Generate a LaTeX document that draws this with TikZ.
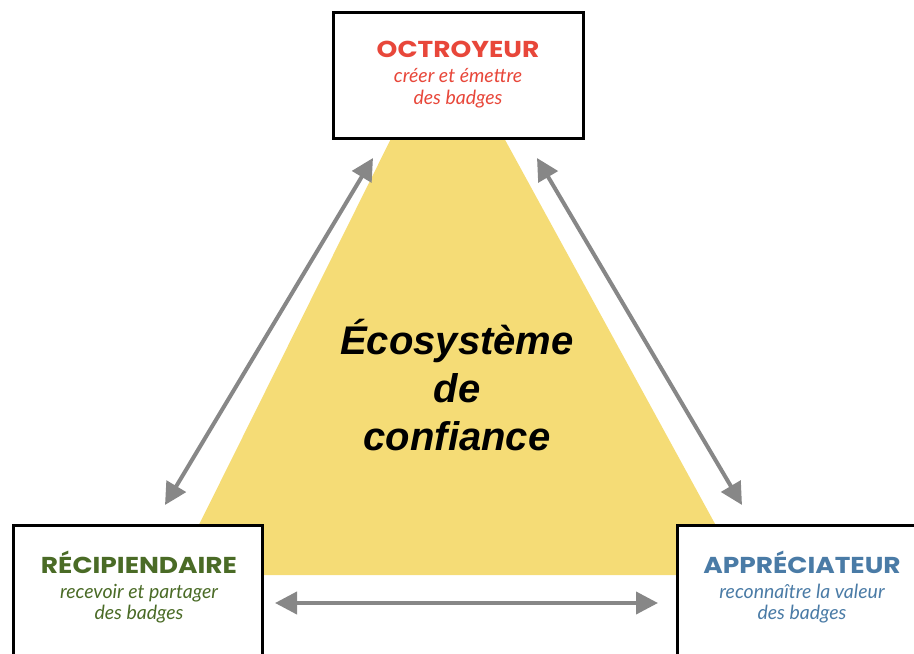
\documentclass[tikz,border=0pt]{standalone}
\usepackage{fontspec}
\setmainfont{Lato}
\newfontfamily\titlefont[FakeStretch=1.15]{Poppins}
\newfontfamily\arialfont{Liberation Sans}
\usetikzlibrary{arrows.meta}
\definecolor{tri}{HTML}{F5DC76}
\definecolor{arrgray}{HTML}{878787}
\definecolor{cred}{HTML}{E8473A}
\definecolor{cgreen}{HTML}{4A6B26}
\definecolor{cblue}{HTML}{4A7BA6}
\tikzset{
  rolebox/.style={draw=black, line width=3pt, fill=white, inner sep=0pt},
  roletitle/.style={font=\titlefont\bfseries\fontsize{23}{26}\selectfont, inner sep=0pt, anchor=base},
  rolesub/.style={font=\itshape\fontsize{19.5}{23}\selectfont, inner sep=0pt, anchor=base},
  twoway/.style={draw=arrgray, line width=4pt, {Triangle[length=22pt,width=22pt]}-{Triangle[length=22pt,width=22pt]}},
}
\begin{document}
\begin{tikzpicture}[x=1pt,y=-1pt]
\useasboundingbox (0,0) rectangle (914,654);
\clip (0,0) rectangle (914,654);
% triangle
\coordinate (tA) at (445,30);
\coordinate (tB) at (174,575);
\coordinate (tC) at (743,575);
\fill[tri] (tA) -- (tB) -- (tC) -- cycle;
% boxes
\node[rolebox, minimum width=250pt, minimum height=126pt] (top) at (458,75) {};
\node[rolebox, minimum width=249pt, minimum height=160pt] (left) at (137.5,605) {};
\node[rolebox, minimum width=250pt, minimum height=160pt] (right) at (802,605) {};
% texts
\node[roletitle, text=cred] (topt) at (458,57) {OCTROYEUR};
\node[rolesub, text=cred] (tops1) at (458,82) {créer et émettre};
\node[rolesub, text=cred] (tops2) at (458,104) {des badges};
\node[roletitle, text=cgreen] (leftt) at (139,573) {RÉCIPIENDAIRE};
\node[rolesub, text=cgreen] (lefts1) at (139,598) {recevoir et partager};
\node[rolesub, text=cgreen] (lefts2) at (139,619) {des badges};
\node[roletitle, text=cblue] (rightt) at (802,573) {APPRÉCIATEUR};
\node[rolesub, text=cblue] (rights1) at (802,598) {reconnaître la valeur};
\node[rolesub, text=cblue] (rights2) at (802,619) {des badges};
\node[font=\arialfont\bfseries\itshape\fontsize{40}{48}\selectfont, align=center, inner sep=0pt] (center) at (457,385) {Écosystème\\de\\confiance};
% arrows
\coordinate (a1) at (165,505);
\coordinate (a2) at (373,158);
\coordinate (b1) at (537,158);
\coordinate (b2) at (742,505);
\coordinate (c1) at (275,603);
\coordinate (c2) at (658,603);
\draw[twoway] (a1) -- (a2);
\draw[twoway] (b1) -- (b2);
\draw[twoway] (c1) -- (c2);
\end{tikzpicture}
\end{document}
